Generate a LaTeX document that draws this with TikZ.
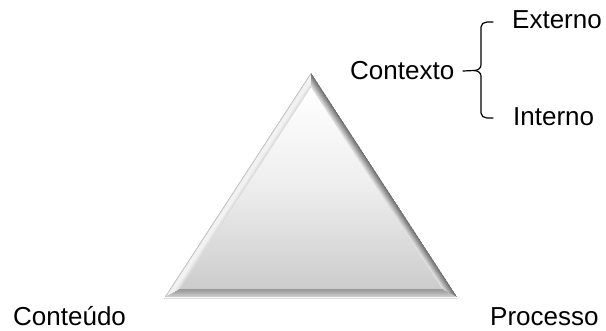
\documentclass[tikz,border=0pt]{standalone}
\usepackage{fontspec}
\setmainfont{Liberation Sans}
\usetikzlibrary{calc}
\tikzset{
  lbl/.style={anchor=base west, inner sep=0pt, font=\fontsize{26}{30}\selectfont},
  bracepen/.style={draw=black, line width=1.2pt, line cap=round, line join=round}
}
\begin{document}
\begin{tikzpicture}[x=1pt,y=-1pt]
\useasboundingbox (0,0) rectangle (606,330);
% triangle corners
\coordinate (A) at (311,73);
\coordinate (L) at (165,297);
\coordinate (R) at (457,297);
\coordinate (I) at (311,217.9);
\coordinate (Ai) at ($(I)!0.899!(A)$);
\coordinate (Li) at ($(I)!0.899!(L)$);
\coordinate (Ri) at ($(I)!0.899!(R)$);
% soft shadow line under base
\draw[black!12, line width=1.5pt] ($(L)+(-1,1.5)$) -- ($(R)+(1,1.5)$);
% left bevel
\begin{scope}
  \clip (A) -- (L) -- (Li) -- (Ai) -- cycle;
  \foreach \i in {0,...,20}{
    \pgfmathsetmacro{\t}{\i/20}
    \pgfmathsetmacro{\p}{\i<4 ? 35-8*\i : (\i<12 ? 5 : 5+1.2*(\i-12))}
    \draw[black!\p, line width=0.9pt] ($(A)!\t!(Ai)$) -- ($(L)!\t!(Li)$);
  }
\end{scope}
% right bevel
\begin{scope}
  \clip (A) -- (R) -- (Ri) -- (Ai) -- cycle;
  \foreach \i in {0,...,20}{
    \pgfmathsetmacro{\t}{\i/20}
    \pgfmathsetmacro{\p}{60-50*\t}
    \draw[black!\p, line width=0.9pt] ($(A)!\t!(Ai)$) -- ($(R)!\t!(Ri)$);
  }
\end{scope}
% bottom bevel
\begin{scope}
  \clip (L) -- (R) -- (Ri) -- (Li) -- cycle;
  \foreach \i in {0,...,20}{
    \pgfmathsetmacro{\t}{\i/20}
    \pgfmathsetmacro{\p}{18+24*\t}
    \draw[black!\p, line width=0.9pt] ($(L)!\t!(Li)$) -- ($(R)!\t!(Ri)$);
  }
\end{scope}
% face
\shade[top color=white, bottom color=black!20, middle color=black!7]
  (Ai) -- (Li) -- (Ri) -- cycle;
% labels
\node[lbl] (contexto) at (350,79) {Contexto};
\node[lbl] (externo) at (512,28) {Externo};
\node[lbl] (interno) at (513,125) {Interno};
\node[lbl] (conteudo) at (13,325) {Conteúdo};
\node[lbl] (processo) at (490,325) {Processo};
% brace
\coordinate (btop) at (493,22);
\coordinate (btip) at (463,71);
\coordinate (bbot) at (493,118);
\draw[bracepen] (btop) -- (487,22) to[out=180,in=90] (481,27) -- (481,65)
  to[out=-90,in=0] (474,70.5) -- (btip);
\draw[bracepen] (474,70.5) to[out=0,in=90] (481,76) -- (481,113)
  to[out=-90,in=180] (487,118) -- (bbot);
\end{tikzpicture}
\end{document}
